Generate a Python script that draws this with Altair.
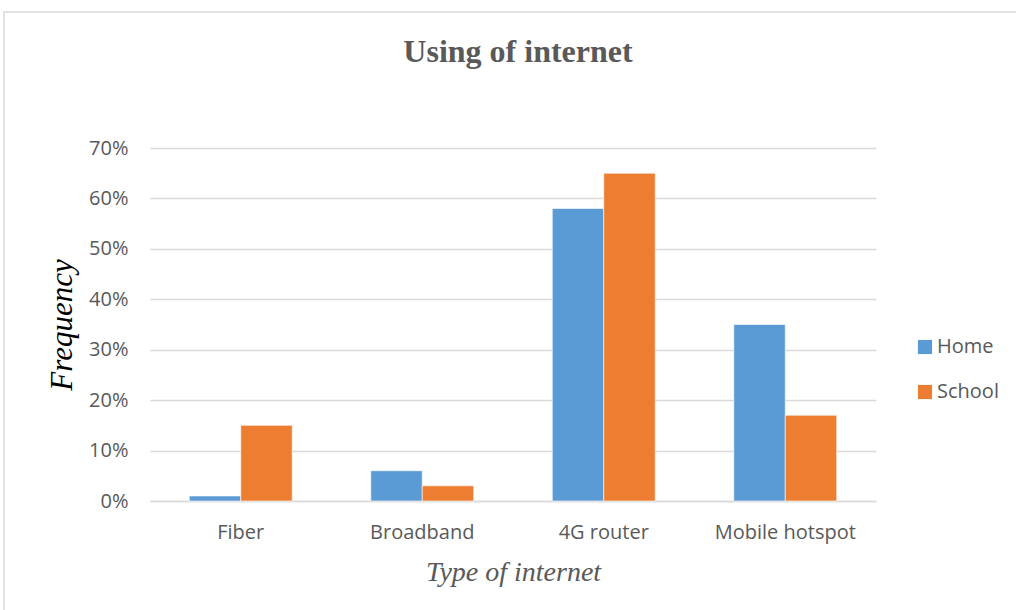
import altair as alt
import pandas as pd

categories = ["Fiber", "Broadband", "4G router", "Mobile hotspot"]
series = ["Home", "School"]
home_values = [0.01, 0.06, 0.58, 0.35]
school_values = [0.15, 0.03, 0.65, 0.17]
y_ticks = [0, 0.1, 0.2, 0.3, 0.4, 0.5, 0.6, 0.7]
colors = ["#5B9BD5", "#ED7D31"]

rows = []
for c, h, s in zip(categories, home_values, school_values):
    rows.append({"Type": c, "Place": "Home", "Value": h})
    rows.append({"Type": c, "Place": "School", "Value": s})
df = pd.DataFrame(rows)

W, H = 726, 353
grey = "#595959"

bars = alt.Chart(df).mark_bar(stroke="white", strokeWidth=0.6).encode(
    x=alt.X("Type:N", sort=categories,
            scale=alt.Scale(paddingInner=0.433, paddingOuter=0.2165),
            axis=alt.Axis(title="Type of internet", labelAngle=0, ticks=False,
                          domain=True, domainColor="#D9D9D9", domainWidth=1.3,
                          labelFont="Open Sans", labelFontSize=20, labelColor=grey,
                          labelPadding=21,
                          titleFont="Liberation Serif", titleFontStyle="italic",
                          titleFontWeight="normal", titleFontSize=28, titleColor=grey,
                          titlePadding=16)),
    xOffset=alt.XOffset("Place:N", sort=series, scale=alt.Scale(paddingInner=0, paddingOuter=0)),
    y=alt.Y("Value:Q",
            scale=alt.Scale(domain=[0, 0.7], nice=False),
            axis=alt.Axis(title="Frequency", values=y_ticks, format=".0%",
                          ticks=False, domain=False, grid=True, gridColor="#D9D9D9",
                          gridWidth=1.3,
                          labelFont="Open Sans", labelFontSize=20, labelColor=grey,
                          labelPadding=22,
                          titleFont="Liberation Serif", titleFontStyle="italic",
                          titleFontWeight="normal", titleFontSize=31, titleColor="#000000",
                          titlePadding=10)),
    color=alt.Color("Place:N", sort=series,
                    scale=alt.Scale(domain=series, range=colors),
                    legend=alt.Legend(title=None, orient="none", legendX=765, legendY=189,
                                      symbolType="square", symbolSize=200,
                                      symbolStrokeWidth=0, labelFont="Open Sans",
                                      labelFontSize=20, labelColor=grey,
                                      rowPadding=25, labelOffset=2)),
)

frame = alt.Chart(pd.DataFrame({"a": [0]})).mark_rect(
    fill=None, stroke="#D9D9D9", strokeWidth=1.5
).encode(x=alt.value(-146), x2=alt.value(880), y=alt.value(-136), y2=alt.value(470))

chart = alt.layer(frame, bars).properties(
    width=W, height=H,
    background="white",
    title=alt.TitleParams("Using of internet", font="Liberation Serif", fontSize=32,
                          fontWeight="bold", color=grey, offset=-58, anchor="middle", dx=5),
    autosize=alt.AutoSizeParams(type="none"),
    padding={"left": 150, "top": 148, "right": 140, "bottom": 109},
).configure_view(strokeWidth=0, stroke="transparent")

chart.save("out.html", embed_options={"renderer": "svg", "actions": False})
